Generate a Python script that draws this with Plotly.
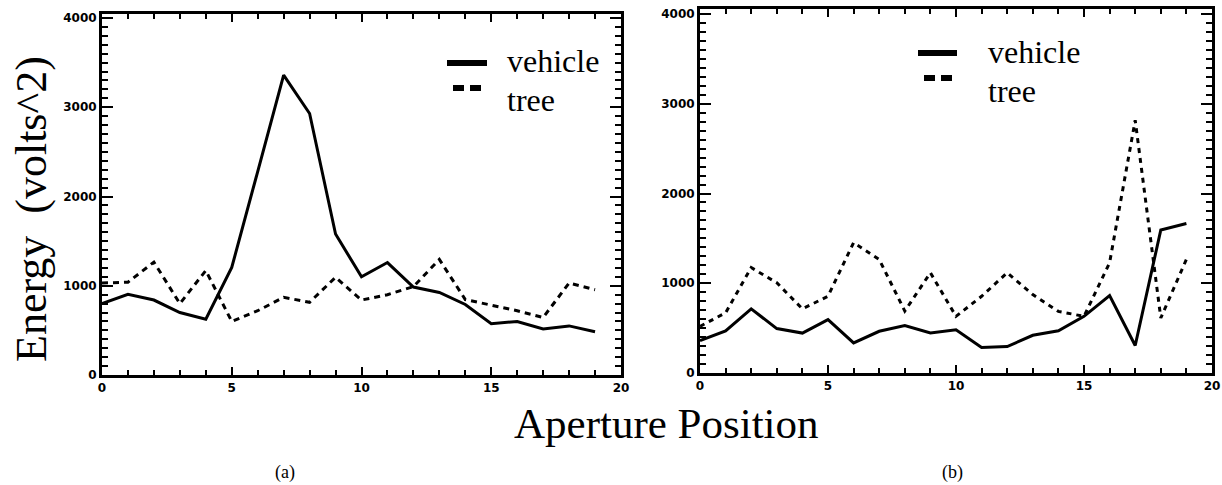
import plotly.graph_objects as go

positions = list(range(20))

vehicle_a = [800, 905, 840, 700, 625, 1205, 2280, 3360, 2930, 1580,
             1100, 1260, 985, 925, 790, 575, 600, 515, 550, 485]
tree_a = [1030, 1040, 1265, 800, 1170, 600, 720, 870, 815, 1095,
          840, 900, 990, 1295, 845, 780, 720, 645, 1030, 955]

vehicle_b = [360, 470, 714, 495, 445, 595, 335, 465, 530, 445,
             482, 285, 295, 420, 470, 631, 863, 306, 1594, 1666]
tree_b = [520, 670, 1175, 1005, 715, 855, 1453, 1266, 690, 1117,
          631, 855, 1117, 874, 687, 631, 1229, 2816, 613, 1266]

y_ticks = [0, 1000, 2000, 3000, 4000]
x_ticks = [0, 5, 10, 15, 20]
series_names = ["vehicle", "tree"]
panel_labels = ["(a)", "(b)"]
y_title = "Energy  (volts^2)"
x_title = "Aperture Position"

W, H = 1222, 485
SERIF = "Liberation Serif"

fig = go.Figure()
fig.add_trace(go.Scatter(x=positions, y=vehicle_a, mode="lines",
                         line=dict(color="black", width=3), xaxis="x", yaxis="y",
                         showlegend=False))
fig.add_trace(go.Scatter(x=positions, y=tree_a, mode="lines",
                         line=dict(color="black", width=3, dash="6px,5px"), xaxis="x", yaxis="y",
                         showlegend=False))
fig.add_trace(go.Scatter(x=positions, y=vehicle_b, mode="lines",
                         line=dict(color="black", width=3), xaxis="x2", yaxis="y2",
                         showlegend=False))
fig.add_trace(go.Scatter(x=positions, y=tree_b, mode="lines",
                         line=dict(color="black", width=3, dash="5px,5px"), xaxis="x2", yaxis="y2",
                         showlegend=False))

tickfont = dict(family="DejaVu Sans", size=12, color="black", weight="bold")


def xax(domain, anchor):
    return dict(domain=domain, anchor=anchor, range=[0, 20], tickvals=x_ticks,
                ticks="inside", ticklen=8, tickwidth=2, tickcolor="black",
                showline=True, linewidth=3, linecolor="black", mirror="ticks",
                showgrid=False, zeroline=False, tickfont=tickfont,
                ticklabeloverflow="allow",
                minor=dict(dtick=1, ticks="inside", ticklen=5, tickwidth=2,
                           tickcolor="black", showgrid=False),
                fixedrange=True)


def yax(domain, anchor, top):
    return dict(domain=domain, anchor=anchor, range=[0, top], tickvals=y_ticks,
                ticks="inside", ticklen=11, tickwidth=2, tickcolor="black",
                showline=True, linewidth=3, linecolor="black", mirror="ticks",
                showgrid=False, zeroline=False, tickfont=tickfont,
                ticklabelstandoff=0, ticklabeloverflow="allow",
                minor=dict(dtick=100, ticks="inside", ticklen=6, tickwidth=2,
                           tickcolor="black", showgrid=False),
                fixedrange=True)


def fx(px):
    return px / W


def fy(py):
    return 1 - py / H


fig.update_layout(
    width=W, height=H,
    margin=dict(l=0, r=0, t=0, b=0, autoexpand=False),
    paper_bgcolor="white", plot_bgcolor="white",
    xaxis=xax([fx(102), fx(621)], "y"),
    yaxis=yax([fy(375), fy(14)], "x", 4045),
    xaxis2=xax([fx(700), fx(1212)], "y2"),
    yaxis2=yax([fy(373), fy(9)], "x2", 4056),
)

annotations = []
shapes = []

# Legends
legend_specs = [
    # (line x0, x1, y vehicle, y tree, text x, y vehicle text, y tree text)
    (447, 487, 63, 88, 505, 61, 100),
    (918, 957, 53, 78, 986, 52, 91),
]
for (x0, x1, yv, yt, tx, tyv, tyt) in legend_specs:
    shapes.append(dict(type="line", xref="paper", yref="paper",
                       x0=fx(x0), x1=fx(x1), y0=fy(yv), y1=fy(yv),
                       line=dict(color="black", width=6)))
    shapes.append(dict(type="line", xref="paper", yref="paper",
                       x0=fx(x0 + 6), x1=fx(x1 - 4), y0=fy(yt), y1=fy(yt),
                       line=dict(color="black", width=6, dash="11px,6px")))
    annotations.append(dict(text=series_names[0], xref="paper", yref="paper",
                            x=fx(tx), y=fy(tyv), xanchor="left", yanchor="middle",
                            showarrow=False, font=dict(family=SERIF, size=32, color="black")))
    annotations.append(dict(text=series_names[1], xref="paper", yref="paper",
                            x=fx(tx), y=fy(tyt), xanchor="left", yanchor="middle",
                            showarrow=False, font=dict(family=SERIF, size=32, color="black")))

annotations.append(dict(text=y_title, xref="paper", yref="paper",
                        x=fx(31), y=fy(209), xanchor="center", yanchor="middle",
                        textangle=-90, showarrow=False,
                        font=dict(family=SERIF, size=44, color="black")))
annotations.append(dict(text=x_title, xref="paper", yref="paper",
                        x=fx(666), y=fy(423), xanchor="center", yanchor="middle",
                        showarrow=False, font=dict(family=SERIF, size=43, color="black")))
annotations.append(dict(text=panel_labels[0], xref="paper", yref="paper",
                        x=fx(285), y=fy(472), xanchor="center", yanchor="middle",
                        showarrow=False, font=dict(family=SERIF, size=18, color="black")))
annotations.append(dict(text=panel_labels[1], xref="paper", yref="paper",
                        x=fx(952), y=fy(472), xanchor="center", yanchor="middle",
                        showarrow=False, font=dict(family=SERIF, size=18, color="black")))

fig.update_layout(annotations=annotations, shapes=shapes)

fig.write_html("out.html", config={"displayModeBar": False},
               post_script="document.body.style.margin='0';document.body.style.overflow='hidden';")
